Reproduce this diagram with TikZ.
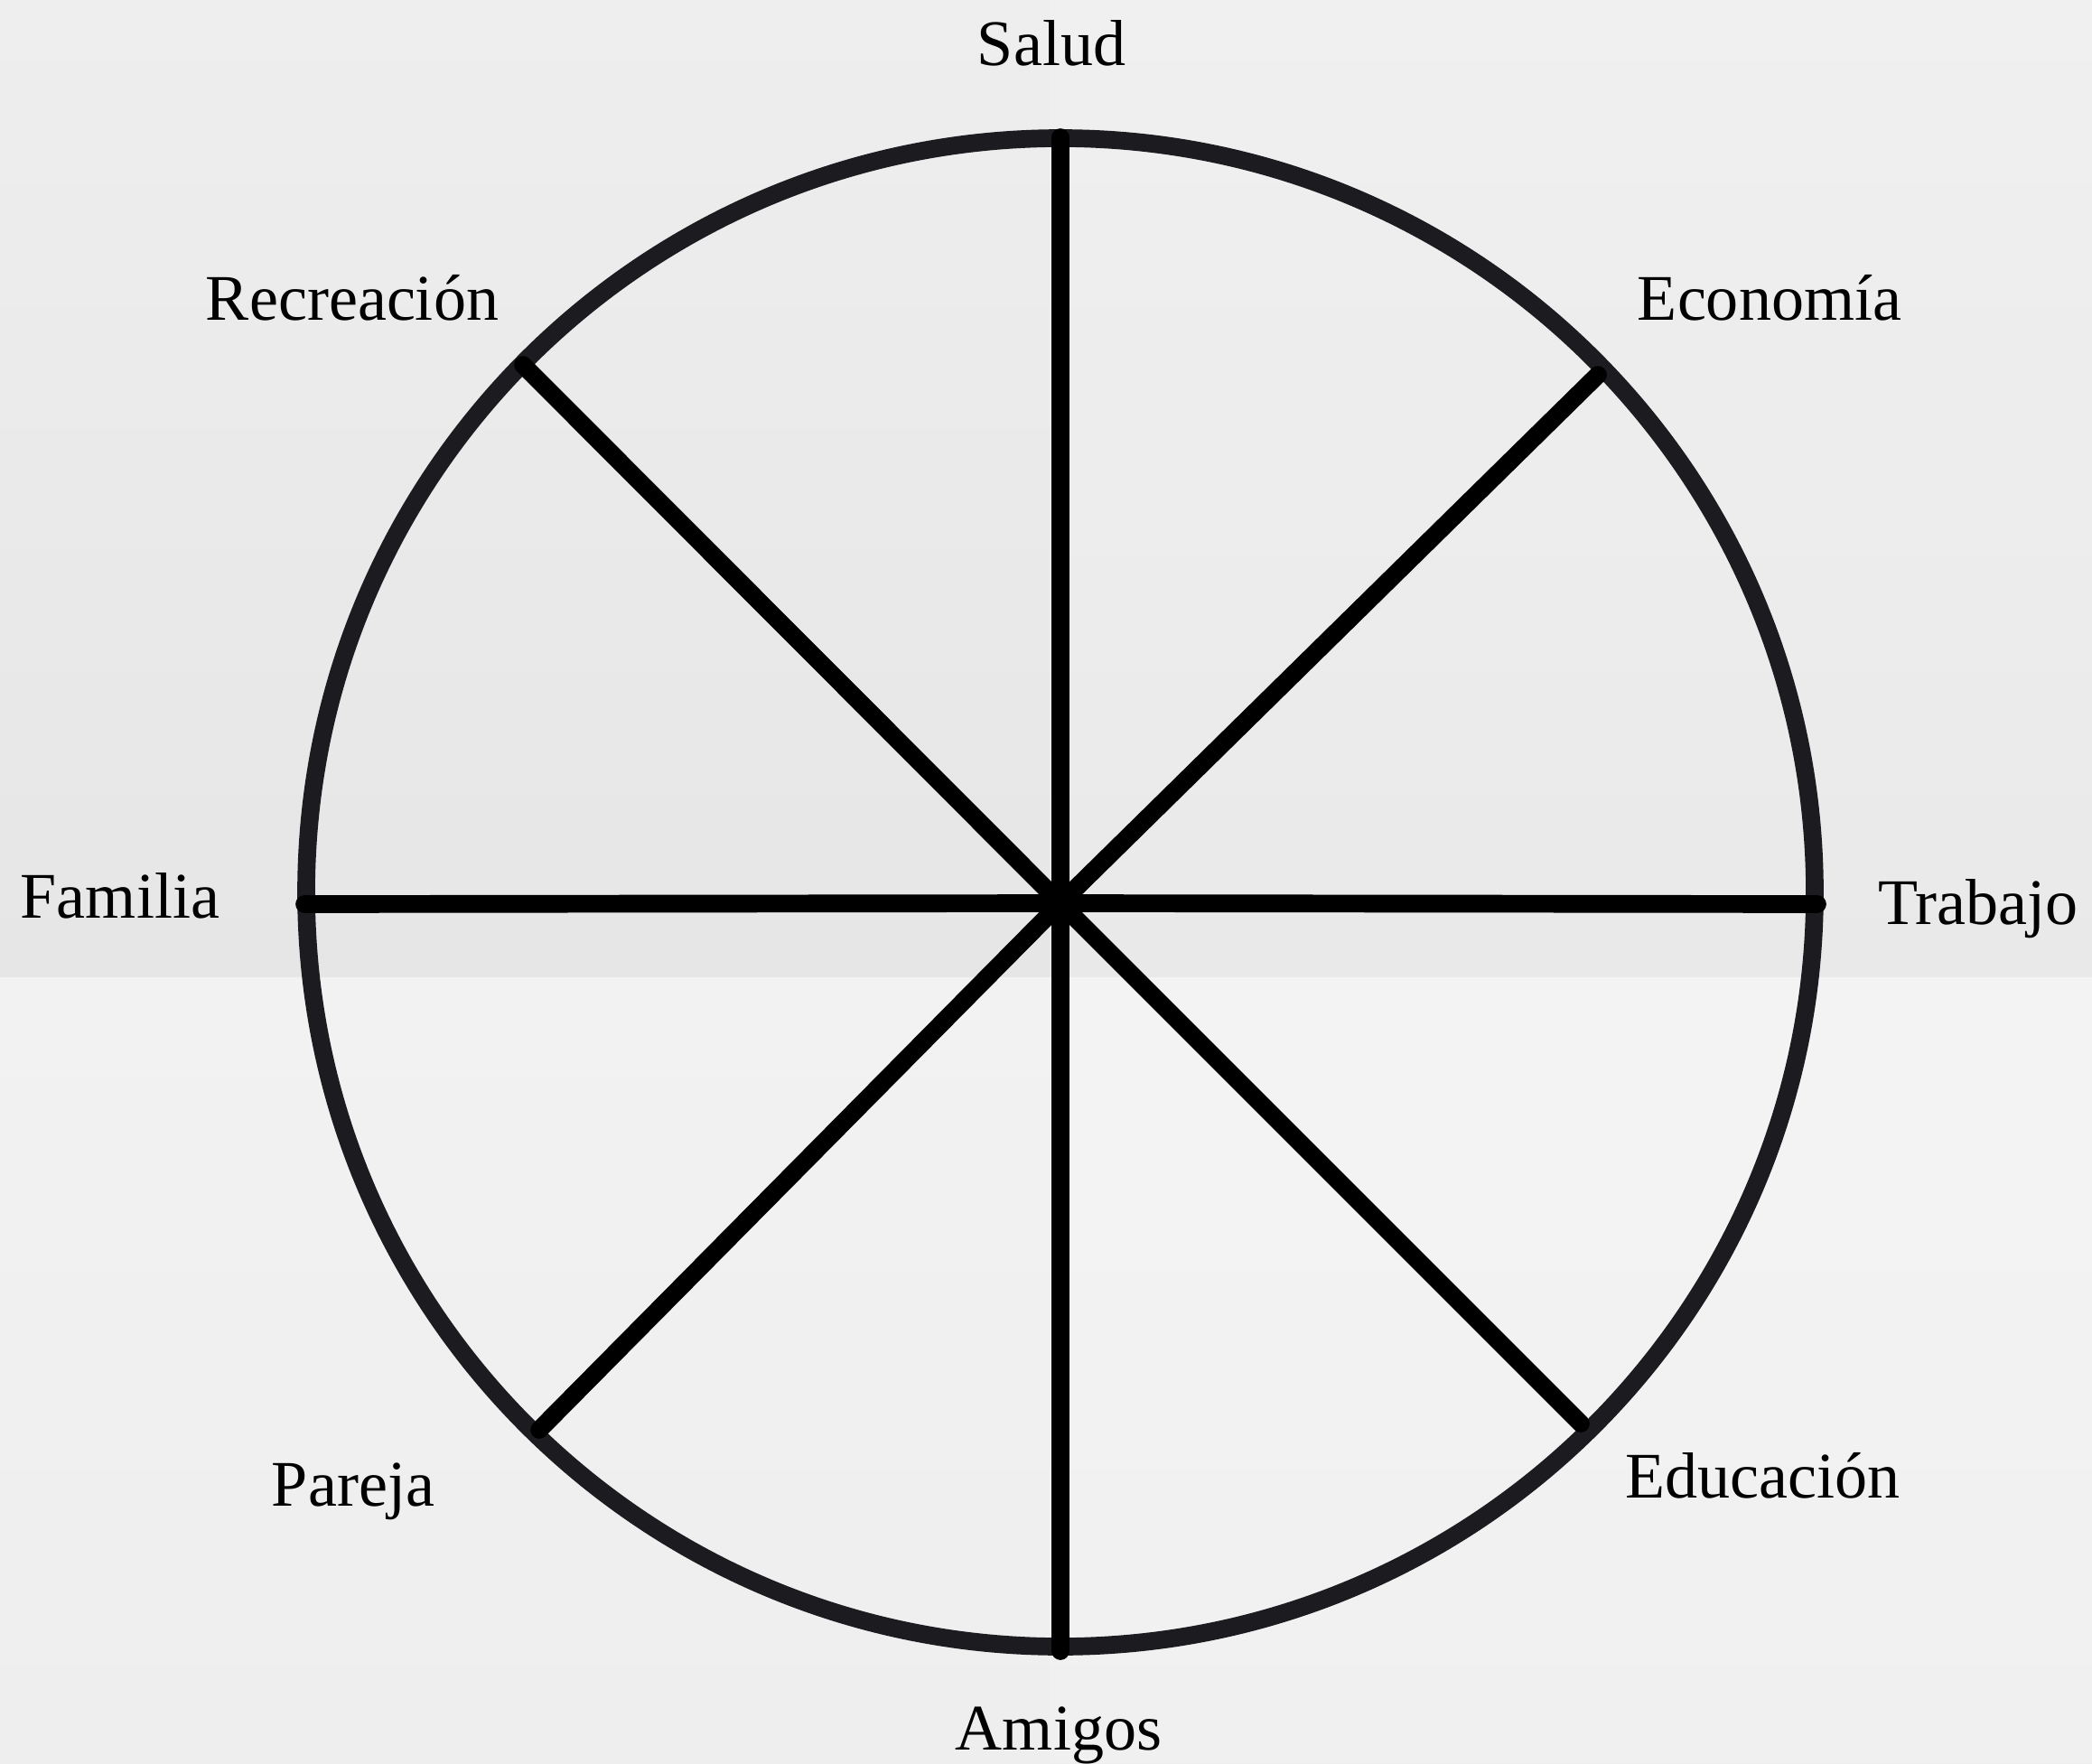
\documentclass[tikz,border=0pt]{standalone}
\usepackage{fontspec}
\setmainfont{Liberation Serif}
\usetikzlibrary{positioning, calc}
\definecolor{paper}{HTML}{EEEEEE}
\definecolor{paperdk}{HTML}{E6E6E6}
\definecolor{paperlt}{HTML}{F2F2F2}
\definecolor{rimgray}{HTML}{1C1B1F}

\begin{document}
\begin{tikzpicture}[
  rim/.style={rimgray, line width=5.6pt},
  spoke/.style={black, line width=5.6pt, line cap=round},
  area/.style={font=\fontsize{20.5}{24}\selectfont, text=black, anchor=base, inner sep=0pt},
]

% Background (folded paper)
\useasboundingbox (0,0) rectangle (23.16,-19.52);
\shade[top color=paper, bottom color=paperdk] (0,0) rectangle (23.16,-10.82);
\shade[top color=paperlt, bottom color=paper] (0,-10.82) rectangle (23.16,-19.52);
\fill[white, opacity=0.15] (11.62,0) rectangle (23.16,-19.52);

% Wheel
\draw[rim] (11.74,-9.88) circle (8.35);

\coordinate (hub) at (11.74,-10.00);
\coordinate (salud) at (11.74,-1.52);
\coordinate (econ) at (17.69,-4.15);
\coordinate (trab) at (20.12,-10.01);
\coordinate (educ) at (17.50,-15.76);
\coordinate (amig) at (11.74,-18.28);
\coordinate (parj) at (5.97,-15.83);
\coordinate (fami) at (3.37,-10.01);
\coordinate (recr) at (5.79,-4.04);

\foreach \e in {salud, econ, trab, educ, amig, parj, fami, recr}
  \draw[spoke] (hub) -- (\e);

% Labels
\node[area] (lsalud) at (11.64,-0.73) {Salud};
\node[area] (lecon) at (19.59,-3.55) {Economía};
\node[area] (ltrab) at (21.90,-10.23) {Trabajo};
\node[area] (leduc) at (19.51,-16.58) {Educación};
\node[area] (lamig) at (11.72,-19.37) {Amigos};
\node[area] (lparj) at (3.91,-16.67) {Pareja};
\node[area] (lfami) at (1.33,-10.16) {Familia};
\node[area] (lrecr) at (3.90,-3.55) {Recreación};

\end{tikzpicture}
\end{document}
